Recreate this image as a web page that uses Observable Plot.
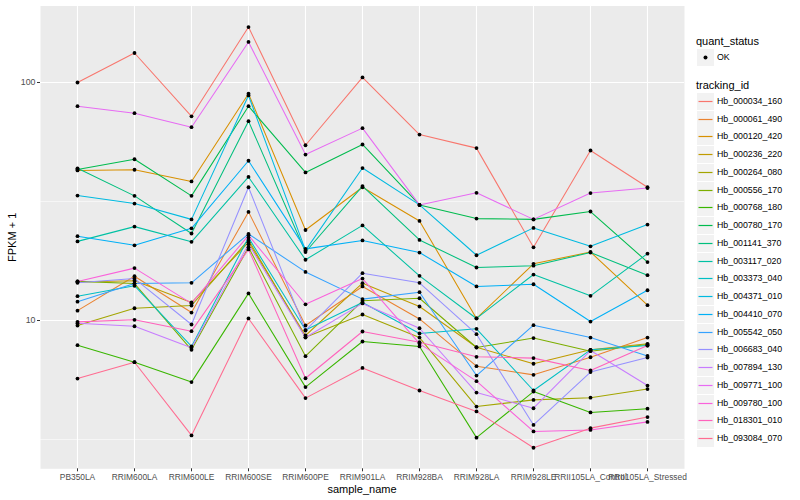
<!DOCTYPE html>
<html><head><meta charset="utf-8">
<script src="https://cdn.jsdelivr.net/npm/d3@7"></script>
<script src="https://cdn.jsdelivr.net/npm/@observablehq/plot@0.6"></script>
<style>
body{margin:0;background:#fff;font-family:"Liberation Sans",Arial,Helvetica,sans-serif;}
#wrap{position:relative;width:800px;height:500px;overflow:hidden;}
#chart{position:absolute;left:0;top:0;}
.t{position:absolute;white-space:nowrap;color:#000;}
.key{position:absolute;width:17px;height:17px;background:#f2f2f2;}
.key svg{position:absolute;left:0;top:0;}
</style></head><body><div id="wrap"><div id="chart"></div></div>
<script>
const samples = ["PB350LA","RRIM600LA","RRIM600LE","RRIM600SE","RRIM600PE","RRIM901LA","RRIM928BA","RRIM928LA","RRIM928LE","RRII105LA_Control","RRII105LA_Stressed"];
const trackingIds = ["Hb_000034_160","Hb_000061_490","Hb_000120_420","Hb_000236_220","Hb_000264_080","Hb_000556_170","Hb_000768_180","Hb_000780_170","Hb_001141_370","Hb_003117_020","Hb_003373_040","Hb_004371_010","Hb_004410_070","Hb_005542_050","Hb_006683_040","Hb_007894_130","Hb_009771_100","Hb_009780_100","Hb_018301_010","Hb_093084_070"];
const colors = ["#F8766D","#EA8331","#D89000","#C09B00","#A3A500","#7CAE00","#39B600","#00BB4E","#00BF7D","#00C1A3","#00BFC4","#00BAE0","#00B0F6","#35A2FF","#9590FF","#C77CFF","#E76BF3","#FA62DB","#FF62BC","#FF6C91"];
const yMajorTicks = [10, 100];
const yMinorBreaks = [3.162, 31.62];

const Hb_000034_160 = [100, 133, 72.1, 171, 54.5, 105, 60.4, 53.0, 20.3, 51.8, 36.3];
const Hb_000061_490 = [11.0, 15.35, 10.8, 28.6, 9.53, 13.9, 10.15, 6.43, 5.91, 7.01, 8.48];
const Hb_000120_420 = [42.7, 43.0, 38.4, 89.7, 24.0, 36.3, 26.2, 10.2, 17.3, 19.4, 11.6];
const Hb_000236_220 = [14.5, 14.7, 11.9, 21.3, 8.65, 14.35, 11.45, 7.72, 6.58, 7.53, 7.98];
const Hb_000264_080 = [9.53, 11.26, 11.56, 21.8, 8.51, 10.6, 8.48, 4.35, 4.64, 4.74, 5.15];
const Hb_000556_170 = [14.6, 14.3, 7.53, 20.3, 7.08, 12.1, 12.4, 7.70, 8.44, 7.43, 7.93];
const Hb_000768_180 = [7.88, 6.68, 5.51, 13.0, 5.25, 8.16, 7.78, 3.22, 5.03, 4.11, 4.26];
const Hb_000780_170 = [43.1, 47.6, 33.4, 79.5, 41.9, 54.9, 30.6, 26.8, 26.6, 28.7, 17.6];
const Hb_001141_370 = [43.6, 33.4, 23.2, 68.8, 19.4, 36.7, 21.8, 16.7, 17.0, 19.3, 15.5];
const Hb_003117_020 = [21.5, 24.8, 21.4, 40.1, 18.0, 25.1, 15.4, 10.2, 15.6, 12.7, 19.1];
const Hb_003373_040 = [12.65, 14.0, 7.78, 22.3, 9.12, 11.9, 8.82, 9.23, 5.08, 7.53, 7.85];
const Hb_004371_010 = [33.5, 31.0, 26.6, 88.2, 19.7, 43.7, 30.6, 18.8, 24.5, 20.5, 25.3];
const Hb_004410_070 = [22.6, 20.7, 24.4, 46.9, 20.0, 21.7, 19.3, 13.9, 14.2, 9.9, 13.4];
const Hb_005542_050 = [12.0, 14.3, 14.4, 23.1, 16.0, 12.3, 13.15, 5.87, 9.56, 8.48, 7.10];
const Hb_006683_040 = [14.4, 15.0, 9.62, 36.3, 9.08, 15.8, 14.4, 8.76, 3.64, 6.07, 6.99];
const Hb_007894_130 = [9.74, 9.46, 7.68, 20.9, 8.48, 11.8, 9.28, 4.98, 4.28, 7.48, 5.33];
const Hb_009771_100 = [79.5, 74.3, 64.9, 148, 49.8, 64.3, 30.6, 34.4, 26.6, 34.3, 36.0];
const Hb_009780_100 = [14.6, 16.6, 11.8, 22.8, 11.7, 15.0, 8.0, 5.56, 3.42, 3.47, 3.75];
const Hb_018301_010 = [9.87, 10.07, 9.02, 19.9, 5.72, 8.99, 8.11, 7.04, 6.95, 6.17, 7.85];
const Hb_093084_070 = [5.70, 6.68, 3.29, 10.2, 4.72, 6.32, 5.08, 4.15, 2.92, 3.53, 3.93];

const seriesValues = [Hb_000034_160, Hb_000061_490, Hb_000120_420, Hb_000236_220, Hb_000264_080, Hb_000556_170, Hb_000768_180, Hb_000780_170, Hb_001141_370, Hb_003117_020, Hb_003373_040, Hb_004371_010, Hb_004410_070, Hb_005542_050, Hb_006683_040, Hb_007894_130, Hb_009771_100, Hb_009780_100, Hb_018301_010, Hb_093084_070];

const data = [];
trackingIds.forEach((id, i) => {
  seriesValues[i].forEach((v, j) => data.push({id, sample: samples[j], value: v}));
});

const fontFamily = '"Liberation Sans", Arial, Helvetica, sans-serif';
const plot = Plot.plot({
  width: 690,
  height: 500,
  marginLeft: 40,
  marginRight: 6,
  marginTop: 5.5,
  marginBottom: 31.7,
  style: {fontFamily, background: "transparent"},
  x: {type: "point", domain: samples, padding: 0.6, label: null},
  y: {type: "log", domain: [2.382, 209.6], label: null},
  color: {domain: trackingIds, range: colors},
  marks: [
    Plot.frame({fill: "#ebebeb", stroke: null}),
    Plot.ruleY(yMinorBreaks, {stroke: "#fff", strokeWidth: 0.55}),
    Plot.ruleY(yMajorTicks, {stroke: "#fff", strokeWidth: 1.1}),
    Plot.ruleX(samples, {stroke: "#fff", strokeWidth: 1.1}),
    Plot.line(data, {x: "sample", y: "value", z: "id", stroke: "id", strokeWidth: 1.05}),
    Plot.dot(data, {x: "sample", y: "value", r: 1.9, fill: "#000", stroke: null}),
    Plot.axisX({tickSize: 3, tickPadding: 2, fontSize: 8.4, fill: "#4d4d4d", stroke: "#333", label: null}),
    Plot.axisY({ticks: yMajorTicks, tickFormat: d => String(d), tickSize: 3, tickPadding: 2, fontSize: 8.8, fill: "#4d4d4d", stroke: "#333", label: null})
  ]
});
document.getElementById("chart").appendChild(plot);

const wrap = document.getElementById("wrap");
function addText(txt, x, y, size, extra) {
  const d = document.createElement("div");
  d.className = "t";
  d.textContent = txt;
  d.style.left = x + "px";
  d.style.top = (y - size * 0.58) + "px";
  d.style.fontSize = size + "px";
  d.style.lineHeight = (size * 1.15) + "px";
  if (extra) Object.assign(d.style, extra);
  wrap.appendChild(d);
  return d;
}
// axis titles
addText("sample_name", 362, 489, 11, {transform: "translateX(-50%)"});
addText("FPKM + 1", 12, 237, 11, {transform: "translate(-50%,0) rotate(-90deg)", transformOrigin: "50% 50%"});

// legend: quant_status
addText("quant_status", 696, 41, 11);
const k0 = document.createElement("div");
k0.className = "key"; k0.style.left = "697px"; k0.style.top = "49px";
k0.innerHTML = '<svg width="17" height="17"><circle cx="8.5" cy="8.5" r="2" fill="#000"/></svg>';
wrap.appendChild(k0);
addText("OK", 717, 57, 8.8);

// legend: tracking_id
addText("tracking_id", 696, 85, 11);
trackingIds.forEach((id, i) => {
  const cy = Math.round(101 + i * 17.74);
  const k = document.createElement("div");
  k.className = "key"; k.style.left = "697px"; k.style.top = (cy - 8) + "px";
  k.innerHTML = '<svg width="17" height="17"><line x1="1.5" x2="15.5" y1="8.5" y2="8.5" stroke="' + colors[i] + '" stroke-width="1.2"/></svg>';
  wrap.appendChild(k);
  addText(id, 717, cy, 8.8);
});
</script></body></html>
